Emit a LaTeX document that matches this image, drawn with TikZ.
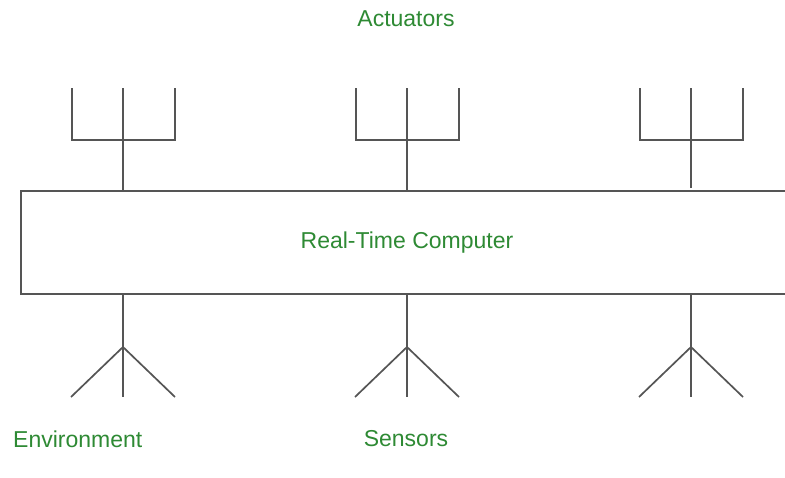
\documentclass[tikz,border=0pt]{standalone}
\usepackage{fontspec}
\setmainfont{Liberation Sans}
\definecolor{labelgreen}{RGB}{46,138,52}
\definecolor{wire}{RGB}{85,85,85}
\begin{document}
\begin{tikzpicture}[x=1pt,y=-1pt,
  wireline/.style={draw=wire,line width=1.7pt,line cap=butt,line join=miter},
  caption/.style={text=labelgreen,font=\fontsize{23}{26}\selectfont,inner sep=0pt}]
  \useasboundingbox (0,0) rectangle (785,477);
  \fill[white] (0,0) rectangle (785,477);

  % computer block, open towards the right edge
  \coordinate (boxTR) at (785,191);
  \coordinate (boxTL) at (21,191);
  \coordinate (boxBL) at (21,294);
  \coordinate (boxBR) at (785,294);
  \draw[wireline] (boxTR) -- (boxTL) -- (boxBL) -- (boxBR);

  \foreach \i/\cx/\stop in {1/123/191,2/407/191,3/691/188} {
    % actuator fork above the block
    \coordinate (aBase\i) at (\cx,\stop);
    \coordinate (aJoin\i) at (\cx,140);
    \coordinate (aL\i) at (\cx-51,140);
    \coordinate (aR\i) at (\cx+52,140);
    \coordinate (aLt\i) at (\cx-51,88);
    \coordinate (aMt\i) at (\cx,88);
    \coordinate (aRt\i) at (\cx+52,88);
    \draw[wireline] (aBase\i) -- (aMt\i);
    \draw[wireline] (aLt\i) -- (aL\i) -- (aR\i) -- (aRt\i);
    % sensor fan below the block
    \coordinate (sBase\i) at (\cx,294);
    \coordinate (sJoin\i) at (\cx,347);
    \coordinate (sL\i) at (\cx-52,397);
    \coordinate (sM\i) at (\cx,397);
    \coordinate (sR\i) at (\cx+52,397);
    \draw[wireline] (sBase\i) -- (sM\i);
    \draw[wireline] (sL\i) -- (sJoin\i) -- (sR\i);
  }

  \node[caption] (actuators) at (406,19) {Actuators};
  \node[caption] (computer) at (407,243) {Real-Time Computer};
  \node[caption,anchor=west] (environment) at (13,439) {Environment};
  \node[caption] (sensors) at (406,439) {Sensors};
\end{tikzpicture}
\end{document}
